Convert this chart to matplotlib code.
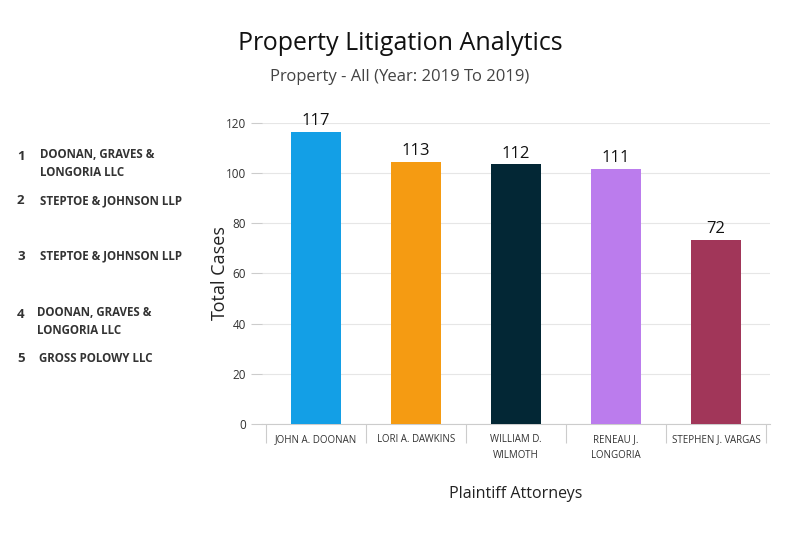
import matplotlib
matplotlib.use('agg')
import matplotlib.pyplot as plt

attorneys = ["JOHN A. DOONAN", "LORI A. DAWKINS", "WILLIAM D.\nWILMOTH",
             "RENEAU J.\nLONGORIA", "STEPHEN J. VARGAS"]
bar_heights = [116.4, 104.5, 103.5, 101.7, 73.4]
case_labels = [117, 113, 112, 111, 72]
colors = ["#139fe6", "#f59b12", "#032735", "#bb7ced", "#a13659"]
firms = ["DOONAN, GRAVES &\nLONGORIA LLC", "STEPTOE & JOHNSON LLP",
         "STEPTOE & JOHNSON LLP", "DOONAN, GRAVES &\nLONGORIA LLC",
         "GROSS POLOWY LLC"]
firm_y = [156, 201, 256, 314, 358]
firm_x = [40, 40, 40, 37, 39]
num_x = [17, 17, 17, 17, 17]

plt.rcParams['font.family'] = 'Open Sans'
fig = plt.figure(figsize=(8, 5.34), dpi=100)
ax = fig.add_axes([0.3275, 0.206, 0.635, 0.564])

x = range(len(attorneys))
ax.bar(x, bar_heights, width=0.5, color=colors, zorder=3)
for i, (h, lab) in enumerate(zip(bar_heights, case_labels)):
    ax.text(i, h + 1, str(lab), ha='center', va='bottom', fontsize=12, color='#111111')

ax.set_xlim(-0.54, 4.54)
ax.set_ylim(0, 120)
ax.set_yticks(range(0, 121, 20))
ax.grid(axis='y', color='#e6e6e6', linewidth=0.8, zorder=0)
ax.set_xticks([i + 0.5 for i in range(-1, 5)])
ax.set_xticklabels([])
ax.tick_params(axis='x', length=14, color='#cccccc', width=0.8)
for i, name in enumerate(attorneys):
    ax.text(i, -4, name, ha='center', va='top', fontsize=7, color='#333333',
            linespacing=1.6)
ax.tick_params(axis='y', length=8, color='#cccccc', labelsize=8.5, labelcolor='#333333')
for s in ['top', 'right', 'left']:
    ax.spines[s].set_visible(False)
ax.spines['bottom'].set_color('#cccccc')
ax.set_ylabel("Total Cases", fontsize=13, color='#222222', labelpad=-2)
ax.set_xlabel("Plaintiff Attorneys", fontsize=11.5, color='#222222', labelpad=27)

fig.text(400 / 800, 1 - 43 / 534, "Property Litigation Analytics", ha='center',
         va='center', fontsize=18, color='#111111')
fig.text(400 / 800, 1 - 77 / 534, "Property - All (Year: 2019 To 2019)", ha='center',
         va='center', fontsize=12, color='#444444')

for i, (name, y) in enumerate(zip(firms, firm_y)):
    fig.text(num_x[i] / 800, 1 - y / 534, str(i + 1), ha='left', va='center',
             fontsize=9.5, fontweight='bold', color='#333333')
    mid = y + 8 * name.count('\n')
    fig.text(firm_x[i] / 800, 1 - mid / 534, name, ha='left', va='center',
             fontsize=8.3, fontweight='bold', color='#333333', linespacing=1.5)

fig.savefig("out.png", dpi=100)
